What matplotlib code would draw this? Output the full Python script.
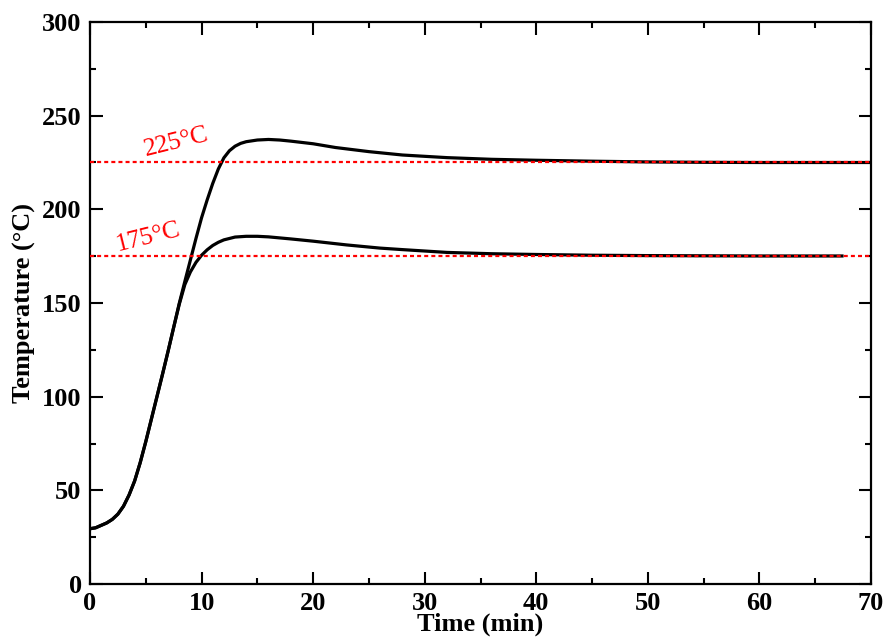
import matplotlib
matplotlib.use("Agg")
import matplotlib.pyplot as plt
from matplotlib.ticker import MultipleLocator

# Time (min) and temperature (°C)
t_225 = [0, 0.5, 1, 1.5, 2, 2.5, 3, 3.5, 4, 4.5, 5, 5.5, 6, 6.5, 7, 7.5, 8,
         8.5, 9, 9.5, 10, 10.5, 11, 11.5, 12, 12.5, 13, 13.5, 14, 15, 16, 17,
         18, 20, 22, 25, 28, 32, 36, 40, 45, 50, 55, 60, 70]
T_225 = [29.5, 30.0, 31.3, 32.6, 34.5, 37.3, 41.5, 47.5, 55.0, 64.8, 76.0,
         88.0, 100.0, 112.0, 124.3, 137.0, 149.8, 161.5, 173.0, 184.5, 195.5,
         205.0, 213.8, 221.5, 227.5, 231.3, 233.7, 235.2, 236.1, 237.0, 237.3,
         237.0, 236.4, 235.0, 233.0, 230.8, 229.0, 227.6, 226.7, 226.2, 225.7,
         225.3, 225.1, 225.0, 225.0]

t_175 = [0, 0.5, 1, 1.5, 2, 2.5, 3, 3.5, 4, 4.5, 5, 5.5, 6, 6.5, 7, 7.5, 8,
         8.5, 9, 9.5, 10, 10.5, 11, 11.5, 12, 13, 14, 15, 16, 18, 20, 23, 26,
         28, 32, 36, 40, 45, 50, 55, 60, 67.4]
T_175 = [29.5, 30.0, 31.3, 32.6, 34.5, 37.3, 41.5, 47.5, 55.0, 64.8, 76.0,
         88.0, 100.0, 112.0, 124.3, 137.0, 149.3, 159.8, 166.6, 171.7, 175.5,
         178.4, 180.7, 182.4, 183.7, 185.2, 185.6, 185.6, 185.3, 184.2, 183.0,
         181.0, 179.3, 178.5, 177.0, 176.3, 175.9, 175.5, 175.3, 175.2, 175.1,
         175.1]

setpoints = [225, 175]
setpoint_labels = ["225°C", "175°C"]
label_pos = [(7.75, 236.0), (5.25, 185.0)]

serif = ["Liberation Serif", "DejaVu Serif"]

fig = plt.figure(figsize=(8.88, 6.41), dpi=100)
ax = fig.add_axes([90/888, 1-584/641, (871-90)/888, (584-22)/641])

ax.plot(t_225, T_225, color="black", lw=2.3, zorder=2)
ax.plot(t_175, T_175, color="black", lw=2.3, zorder=2)

for sp in setpoints:
    ax.axhline(sp, color="#ff0000", lw=1.6, linestyle=(0, (1.8, 1.4)), zorder=3)

for lab, (x, y) in zip(setpoint_labels, label_pos):
    ax.text(x, y, lab, color="#ff0000", fontsize=18.5, family=serif,
            rotation=14, ha="center", va="center", zorder=4)

ax.set_xlim(0, 70)
ax.set_ylim(0, 300)
ax.xaxis.set_major_locator(MultipleLocator(10))
ax.xaxis.set_minor_locator(MultipleLocator(5))
ax.yaxis.set_major_locator(MultipleLocator(50))
ax.yaxis.set_minor_locator(MultipleLocator(25))
ax.tick_params(which="both", direction="in", top=True, right=True, width=1.5)
ax.tick_params(which="major", length=9, pad=6)
ax.tick_params(which="minor", length=4.5)
for s in ax.spines.values():
    s.set_linewidth(1.6)

for lbl in ax.get_xticklabels() + ax.get_yticklabels():
    lbl.set_family(serif)
    lbl.set_fontweight("bold")
    lbl.set_fontsize(19)

ax.set_xlabel("Time (min)", family=serif, fontweight="bold", fontsize=19, labelpad=-2)
ax.set_ylabel("Temperature (°C)", family=serif, fontweight="bold", fontsize=19, labelpad=4)

fig.savefig("out.png", dpi=100)
